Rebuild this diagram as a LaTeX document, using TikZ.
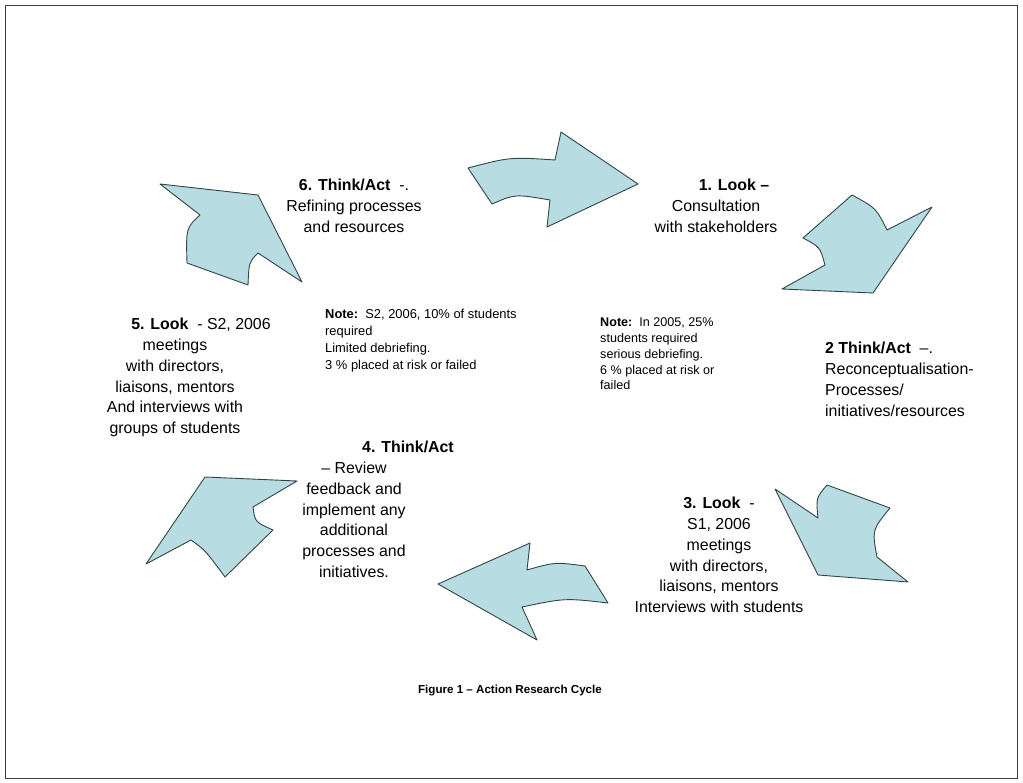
\documentclass[tikz,border=0pt]{standalone}
\usepackage{fontspec}
\setmainfont{Liberation Sans}
\definecolor{arrowfill}{RGB}{183,221,226}
\definecolor{arrowline}{RGB}{50,68,68}
\definecolor{framecol}{RGB}{60,60,60}
\tikzset{
  cyclearrow/.style={fill=arrowfill, draw=arrowline, line width=0.9pt, line join=round},
  steplabel/.style={align=center, inner sep=0pt, anchor=north, font=\fontsize{15.9}{20.8}\selectfont},
  leftlabel/.style={align=left, inner sep=0pt, anchor=north west, font=\fontsize{15.9}{20.8}\selectfont},
  notelabel/.style={align=left, inner sep=0pt, anchor=north west},
  captionlabel/.style={inner sep=0pt, font=\fontsize{11.6}{14}\selectfont\bfseries}
}
\begin{document}
\begin{tikzpicture}[x=1pt,y=-1pt]
\useasboundingbox (0,0) rectangle (1023,783);
\draw[framecol, line width=0.9pt] (5,5) rectangle (1017,778);

% arrow 6 (up-right, top left)
\draw[cyclearrow] (160,184) -- (258,195) -- (302,282) -- (258,253)
  .. controls (249,262) .. (248,285) -- (187,263)
  .. controls (186,228) .. (200,215) -- cycle;
% arrow 1 (right, top)
\draw[cyclearrow] (468,168) .. controls (510,157) .. (555,160) -- (561,132)
  -- (638,184) -- (547,227) -- (550,200)
  .. controls (515,194) .. (492,204) -- cycle;
% arrow 2 (down, top right)
\draw[cyclearrow] (852,195) .. controls (876,208) .. (887,230) -- (932,207)
  -- (873,293) -- (782,289) -- (825,265)
  .. controls (820,247) .. (803,238) -- cycle;
% arrow 3 (down-left, bottom right)
\draw[cyclearrow] (775,489) -- (818,518) .. controls (816,498) .. (827,485)
  -- (890,508) .. controls (872,530) .. (877,557) -- (908,582)
  -- (818,575) -- cycle;
% arrow 4 (left, bottom)
\draw[cyclearrow] (530,543) -- (527,570) .. controls (555,562) .. (585,566)
  -- (608,603) .. controls (565,598) .. (522,607) -- (537,640)
  -- (438,584) -- cycle;
% arrow 5 (up, bottom left)
\draw[cyclearrow] (205,477) -- (297,481) -- (253,507)
  .. controls (255,522) .. (273,530) -- (225,577)
  .. controls (205,550) .. (191,540) -- (146,564) -- cycle;

\node[steplabel] (t6) at (354,179) {\textbf{6. Think/Act}\ \ -.\\Refining processes\\and resources};
\node[steplabel] (t1) at (716,179) {\hspace*{36pt}\textbf{1. Look –}\\Consultation\\with stakeholders};
\node[leftlabel] (t2) at (825,342) {\textbf{2 Think/Act}\ \ –.\\Reconceptualisation-\\Processes/\\initiatives/resources};
\node[steplabel] (t3) at (719,497) {\textbf{3. Look}\ \ -\\S1, 2006\\meetings\\with directors,\\liaisons, mentors\\Interviews with students};
\node[steplabel] (t4) at (354,441) {\hspace*{108pt}\textbf{4. Think/Act}\\– Review\\feedback and\\implement any\\additional\\processes and\\initiatives.};
\node[steplabel] (t5) at (175,318) {\hspace*{52pt}\textbf{5. Look}\ \ - S2, 2006\\meetings\\with directors,\\liaisons, mentors\\And interviews with\\groups of students};

\node[notelabel, font=\fontsize{12.9}{17}\selectfont] (n1) at (325,309) {\textbf{Note:}\ \ S2, 2006, 10\% of students\\required\\Limited debriefing.\\3 \% placed at risk or failed};
\node[notelabel, font=\fontsize{12.6}{15.7}\selectfont] (n2) at (600,318) {\textbf{Note:}\ \ In 2005, 25\%\\students required\\serious debriefing.\\6 \% placed at risk or\\failed};

\node[captionlabel] (cap) at (510,691) {Figure 1 – Action Research Cycle};
\end{tikzpicture}
\end{document}
